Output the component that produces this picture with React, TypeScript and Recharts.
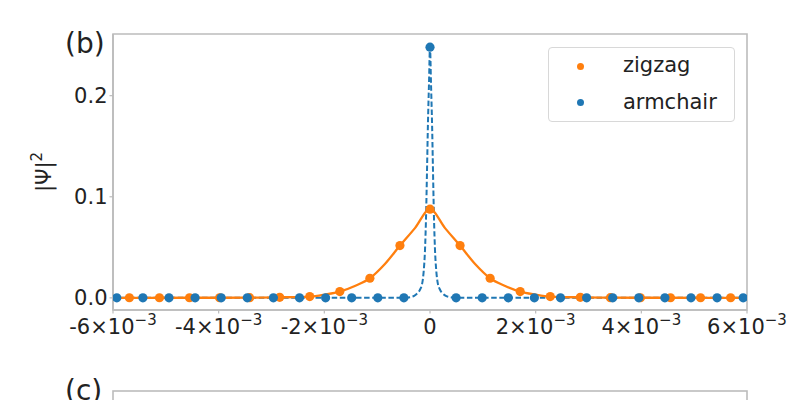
import React from "react";
import {
  ComposedChart,
  Line,
  Scatter,
  XAxis,
  YAxis,
  Legend,
  ReferenceArea,
} from "recharts";

// ---- data (x in real units, y = |Psi|^2) ----
const zigzagX = [
  -0.00569, -0.005121, -0.004552, -0.003983, -0.003414, -0.002845, -0.002276,
  -0.001707, -0.001138, -0.000569, 0, 0.000569, 0.001138, 0.001707, 0.002276,
  0.002845, 0.003414, 0.003983, 0.004552, 0.005121, 0.00569,
];
const zigzagY = [
  0.0001, 0.0001, 0.0001, 0.0001, 0.0002, 0.0005, 0.0013, 0.0062, 0.0194,
  0.0517, 0.0877, 0.0517, 0.0194, 0.0062, 0.0013, 0.0005, 0.0002, 0.0001,
  0.0001, 0.0001, 0.0001,
];

const armchairX = [
  -0.005928, -0.005434, -0.00494, -0.004446, -0.003952, -0.003458, -0.002964,
  -0.00247, -0.001976, -0.001482, -0.000988, -0.000494, 0, 0.000494, 0.000988,
  0.001482, 0.001976, 0.00247, 0.002964, 0.003458, 0.003952, 0.004446,
  0.00494, 0.005434, 0.005928,
];
const armchairY = [
  0, 0, 0, 0, 0, 0, 0, 0, 0, 0, 0, 0, 0.248, 0, 0, 0, 0, 0, 0, 0, 0, 0, 0, 0,
  0,
];

// fitted curves
const zigzagFitX = [
  -0.006, -0.004552, -0.003414, -0.002845, -0.002276, -0.00199, -0.001707,
  -0.0014225, -0.001138, -0.0008535, -0.000569, -0.0002845, 0, 0.0002845,
  0.000569, 0.0008535, 0.001138, 0.0014225, 0.001707, 0.00199, 0.002276,
  0.002845, 0.003414, 0.004552, 0.006,
];
const zigzagFitY = [
  0, 0.0001, 0.0002, 0.0005, 0.0013, 0.0033, 0.0062, 0.0118, 0.0194, 0.0335,
  0.0517, 0.069, 0.0877, 0.069, 0.0517, 0.0335, 0.0194, 0.0118, 0.0062, 0.0033,
  0.0013, 0.0005, 0.0002, 0.0001, 0,
];

const armchairFitX = [
  -0.006, -0.000494, -0.00038, -0.0003, -0.00024, -0.00019, -0.000145,
  -0.00012, -0.000095, -0.000075, -0.000055, -0.00004, -0.00002, 0, 0.00002,
  0.00004, 0.000055, 0.000075, 0.000095, 0.00012, 0.000145, 0.00019, 0.00024,
  0.0003, 0.00038, 0.000494, 0.006,
];
const armchairFitY = [
  0, 0, 0.0007, 0.002, 0.0045, 0.008, 0.015, 0.026, 0.047, 0.08, 0.13, 0.17,
  0.21, 0.248, 0.21, 0.17, 0.13, 0.08, 0.047, 0.026, 0.015, 0.008, 0.0045,
  0.002, 0.0007, 0, 0,
];

const xDomain = [-0.006, 0.006];
const yDomain = [-0.012, 0.261];
const xTicks = [-0.006, -0.004, -0.002, 0, 0.002, 0.004, 0.006];
const yTicks = [0, 0.1, 0.2];
const seriesNames = ["zigzag", "armchair"];

const ORANGE = "#ff7f0e";
const BLUE = "#1f77b4";
const SPINE = "#bcbcbc";
const TEXT = "#222222";
const FONT = "DejaVu Sans";
const seriesColors: Record<string, string> = {
  zigzag: ORANGE,
  armchair: BLUE,
};

const zip = (xs: number[], ys: number[]) =>
  xs.map((x, i) => ({ x, y: ys[i] }));

const zigzagData = zip(zigzagX, zigzagY);
const armchairData = zip(armchairX, armchairY);
const zigzagFit = zip(zigzagFitX, zigzagFitY);
const armchairFit = zip(armchairFitX, armchairFitY);

const XTick = (props: any) => {
  const { x, y, payload } = props;
  const v = payload.value as number;
  const m = Math.round(v * 1000);
  return (
    <text
      x={x}
      y={y + 18}
      textAnchor="middle"
      fontSize={21}
      fontFamily={FONT}
      fill={TEXT}
    >
      {m === 0 ? (
        "0"
      ) : (
        <>
          <tspan>{`${m}×10`}</tspan>
          <tspan dy={-9} fontSize={15}>
            −3
          </tspan>
        </>
      )}
    </text>
  );
};

const YLabel = (props: any) => {
  const vb = props.viewBox || { x: 33, y: 34, width: 80, height: 276 };
  const cx = vb.x + 18;
  const cy = vb.y + vb.height / 2;
  return (
    <text
      x={0}
      y={0}
      transform={`translate(${cx}, ${cy}) rotate(-90)`}
      textAnchor="middle"
      fontSize={21}
      fontFamily={FONT}
      fill={TEXT}
    >
      <tspan>|Ψ|</tspan>
      <tspan dy={-9} fontSize={15}>
        2
      </tspan>
    </text>
  );
};

const dotShape = (color: string) => (p: any) =>
  <circle cx={p.cx} cy={p.cy} r={4.6} fill={color} />;

const LegendBox = (props: any) => {
  const payload = props.payload || [];
  const items = seriesNames.map((name) => {
    const e = payload.find((p: any) => p.value === name);
    return { name, color: (e && e.color) || seriesColors[name] };
  });
  return (
    <div
      style={{
        width: 187,
        height: 75,
        boxSizing: "border-box",
        border: "1px solid #d8d8d8",
        borderRadius: 4,
        background: "rgba(255,255,255,0.8)",
        fontFamily: FONT,
        fontSize: 21,
        color: TEXT,
      }}
    >
      {items.map((it: any) => (
        <div
          key={it.name}
          style={{
            height: 36.5,
            position: "relative",
          }}
        >
          <span
            style={{
              position: "absolute",
              left: 28,
              top: 14.5,
              width: 7,
              height: 7,
              borderRadius: "50%",
              background: it.color,
            }}
          />
          <span
            style={{
              position: "absolute",
              left: 74,
              top: 3,
              lineHeight: "28px",
              whiteSpace: "nowrap",
            }}
          >
            {it.name}
          </span>
        </div>
      ))}
    </div>
  );
};

export default function App() {
  return (
    <div
      style={{
        position: "fixed",
        left: 0,
        top: 0,
        width: 800,
        height: 400,
        background: "#fff",
        overflow: "hidden",
      }}
    >
      <ComposedChart
        width={800}
        height={400}
        margin={{ top: 34, right: 53, bottom: 50, left: 33 }}
      >
        <XAxis
          type="number"
          dataKey="x"
          domain={xDomain}
          ticks={xTicks}
          allowDataOverflow
          height={40}
          tick={<XTick />}
          tickSize={3.5}
          tickLine={{ stroke: SPINE, strokeWidth: 1.2 }}
          axisLine={{ stroke: SPINE, strokeWidth: 1.6 }}
          interval={0}
        />
        <YAxis
          type="number"
          domain={yDomain}
          ticks={yTicks}
          allowDataOverflow
          width={80}
          tickFormatter={(v: number) => v.toFixed(1)}
          tick={{ fontSize: 21, fill: TEXT, fontFamily: FONT }}
          tickSize={3.5}
          tickLine={{ stroke: SPINE, strokeWidth: 1.2 }}
          axisLine={{ stroke: SPINE, strokeWidth: 1.6 }}
          interval={0}
          label={<YLabel />}
        />
        <ReferenceArea
          x1={xDomain[0]}
          x2={xDomain[1]}
          y1={yDomain[0]}
          y2={yDomain[1]}
          fill="none"
          stroke={SPINE}
          strokeWidth={1.6}
          ifOverflow="visible"
        />
        <Legend
          layout="horizontal"
          verticalAlign="middle"
          align="center"
          wrapperStyle={{ top: 47, left: 548, width: 187, height: 75 }}
          content={<LegendBox />}
        />
        <Line
          data={armchairFit}
          dataKey="y"
          type="monotone"
          stroke={BLUE}
          strokeWidth={2}
          strokeDasharray="5.5 2.6"
          dot={false}
          activeDot={false}
          legendType="none"
          isAnimationActive={false}
        />
        <Line
          data={zigzagFit}
          dataKey="y"
          type="monotone"
          stroke={ORANGE}
          strokeWidth={2.3}
          dot={false}
          activeDot={false}
          legendType="none"
          isAnimationActive={false}
        />
        <Scatter
          name={seriesNames[0]}
          data={zigzagData}
          dataKey="y"
          fill={ORANGE}
          legendType="circle"
          shape={dotShape(ORANGE)}
          isAnimationActive={false}
        />
        <Scatter
          name={seriesNames[1]}
          data={armchairData}
          dataKey="y"
          fill={BLUE}
          legendType="circle"
          shape={dotShape(BLUE)}
          isAnimationActive={false}
        />
      </ComposedChart>
      <svg
        width={800}
        height={400}
        style={{ position: "absolute", left: 0, top: 0, pointerEvents: "none" }}
      >
        <text x={65} y={52.5} fontSize={28} fontFamily={FONT} fill={TEXT}>
          (b)
        </text>
        <text x={65} y={400} fontSize={28} fontFamily={FONT} fill={TEXT}>
          (c)
        </text>
        <rect
          x={113}
          y={391}
          width={634}
          height={60}
          fill="none"
          stroke={SPINE}
          strokeWidth={1.6}
        />
      </svg>
    </div>
  );
}
